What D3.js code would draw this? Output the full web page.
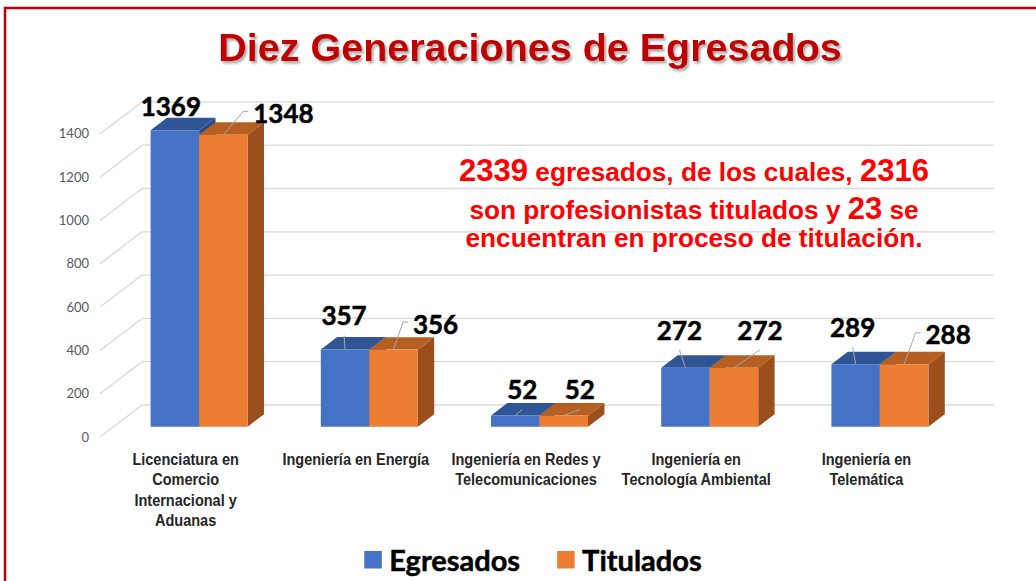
<!DOCTYPE html>
<html>
<head>
<meta charset="utf-8">
<script src="https://cdn.jsdelivr.net/npm/d3@7"></script>
<style>
  body { margin: 0; background: #fff; }
  svg { display: block; }
</style>
</head>
<body>
<div id="chart"></div>
<script>
// data
const categories = [
    'Licenciatura en Comercio Internacional y Aduanas',
    'Ingeniería en Energía',
    'Ingeniería en Redes y Telecomunicaciones',
    'Ingeniería en Tecnología Ambiental',
    'Ingeniería en Telemática'
];
const categoryLines = [
    ['Licenciatura en', 'Comercio', 'Internacional y', 'Aduanas'],
    ['Ingeniería en Energía'],
    ['Ingeniería en Redes y', 'Telecomunicaciones'],
    ['Ingeniería en', 'Tecnología Ambiental'],
    ['Ingeniería en', 'Telemática']
];
const series = ['Egresados', 'Titulados'];
const egresados = [1369, 357, 52, 272, 289];
const titulados = [1348, 356, 52, 272, 288];
const yTicks = [0, 200, 400, 600, 800, 1000, 1200, 1400];

// label placement relative to the top of each bar (dx, dy) and whether a hooked leader is used
const labelShift = {
    Egresados: [[-4, -14], [-1, -24], [7, -16], [-6, -28], [-3, -27]],
    Titulados: [[60, -12], [42, -16], [16, -16], [26, -28], [44, -20]]
};
const labelHook = {Egresados: [0, 0, 0, 0, 0], Titulados: [1, 1, 0, 0, 1]};

const colors = {
    Egresados: {front: '#4472C4', top: '#2F5597', side: '#2A4B86'},
    Titulados: {front: '#ED7D31', top: '#B65F22', side: '#9B4F1D'}
};

const W = 1036, H = 581;
const svg = d3.select('#chart').append('svg')
    .attr('width', W)
    .attr('height', H);

// slide border
svg.append('rect')
    .attr('x', 5).attr('y', 8)
    .attr('width', W + 20).attr('height', H + 20)
    .attr('fill', 'none')
    .attr('stroke', '#C00000')
    .attr('stroke-width', 2.5);

// title shadow
const defs = svg.append('defs');
defs.append('filter').attr('id', 'shadow')
    .attr('x', '-5%').attr('y', '-20%').attr('width', '110%').attr('height', '150%')
    .append('feDropShadow')
    .attr('dx', 2).attr('dy', 2.5).attr('stdDeviation', 1.2)
    .attr('flood-color', '#777').attr('flood-opacity', 0.6);

svg.append('text')
    .attr('x', 530).attr('y', 61)
    .attr('text-anchor', 'middle')
    .attr('font-family', '"Liberation Sans", Arial, sans-serif')
    .attr('font-weight', 'bold')
    .attr('font-size', 39.5)
    .attr('fill', '#C00000')
    .attr('filter', 'url(#shadow)')
    .text('Diez Generaciones de Egresados');

// 3D geometry: front floor edge, depth vector
const floorY = 437;
const depthX = 42, depthY = -32;
const d0 = 0.322, d1 = 0.712;  // bar front / back depth

const x = d3.scaleBand()
    .domain(categories)
    .range([100, 952])
    .paddingInner(0.43)
    .paddingOuter(0.218);

const xSub = d3.scaleBand()
    .domain(series)
    .range([0, x.bandwidth()]);

const y = d3.scaleLinear()
    .domain([0, 1400])
    .range([0, 303.1]);

function project(xf, v, d) {
    return [xf + depthX * d, floorY + depthY * d - y(v)];
}

const grid = svg.append('g')
    .attr('stroke', '#D9D9D9')
    .attr('stroke-width', 1.3)
    .attr('fill', 'none');

// back wall gridlines
grid.selectAll('.back')
    .data(yTicks)
    .enter()
    .append('line')
    .attr('x1', d => project(100, d, 1)[0])
    .attr('x2', d => project(952, d, 1)[0])
    .attr('y1', d => project(100, d, 1)[1])
    .attr('y2', d => project(100, d, 1)[1]);

// side wall gridlines
grid.selectAll('.side')
    .data(yTicks)
    .enter()
    .append('line')
    .attr('x1', d => project(100, d, 0)[0])
    .attr('y1', d => project(100, d, 0)[1])
    .attr('x2', d => project(100, d, 1)[0])
    .attr('y2', d => project(100, d, 1)[1]);

// y tick labels
svg.append('g')
    .selectAll('text')
    .data(yTicks)
    .enter()
    .append('text')
    .attr('x', 89)
    .attr('y', d => project(100, d, 0)[1])
    .attr('dy', '0.35em')
    .attr('text-anchor', 'end')
    .attr('font-family', 'Lato, "Open Sans", sans-serif')
    .attr('font-size', 13)
    .attr('fill', '#595959')
    .text(d => d);

// bars
const values = {Egresados: egresados, Titulados: titulados};
const bars = [];
series.forEach(s => {
    categories.forEach((c, i) => {
        bars.push({series: s, cat: c, i: i, value: values[s][i]});
    });
});

const pts = a => a.map(p => p.join(',')).join(' ');

const barG = svg.append('g');
bars.forEach(b => {
    const xl = x(b.cat) + xSub(b.series);
    const xr = xl + xSub.bandwidth();
    const col = colors[b.series];
    const g = barG.append('g');
    // side
    g.append('polygon')
        .attr('points', pts([project(xr, 0, d0), project(xr, b.value, d0), project(xr, b.value, d1), project(xr, 0, d1)]))
        .attr('fill', col.side);
    // top
    g.append('polygon')
        .attr('points', pts([project(xl, b.value, d0), project(xr, b.value, d0), project(xr, b.value, d1), project(xl, b.value, d1)]))
        .attr('fill', col.top);
    // front
    g.append('polygon')
        .attr('points', pts([project(xl, 0, d0), project(xr, 0, d0), project(xr, b.value, d0), project(xl, b.value, d0)]))
        .attr('fill', col.front);
});

// value labels + leader lines
const labelG = svg.append('g');
bars.forEach(b => {
    const xc = x(b.cat) + xSub(b.series) + xSub.bandwidth() / 2;
    const [tx, ty] = project(xc, b.value, d0);
    const [dx, dy] = labelShift[b.series][b.i];
    const lx = tx + dx, ly = ty + dy;
    const t = labelG.append('text')
        .attr('x', lx).attr('y', ly)
        .attr('text-anchor', 'middle')
        .attr('font-family', 'Lato, "Open Sans", sans-serif')
        .attr('font-weight', 'bold')
        .attr('font-size', 26)
        .attr('fill', '#000')
        .attr('stroke', '#000')
        .attr('stroke-width', 0.5)
        .text(b.value);
    const w = t.node().getComputedTextLength();
    let path;
    if (labelHook[b.series][b.i]) {
        const left = lx - w / 2;
        path = [[tx, ty], [left - 10, ly - 11.5], [left - 5, ly - 11.5]];
    } else {
        path = [[tx, ty], [lx, ly + 10]];
    }
    const len = Math.hypot(path[1][0] - tx, path[1][1] - ty);
    if (len > 8) {
        labelG.insert('polyline', 'text')
            .attr('points', pts(path))
            .attr('fill', 'none')
            .attr('stroke', '#A6A6A6')
            .attr('stroke-width', 1);
    }
});

// category labels (narrow bold face, squeezed horizontally)
const catG = svg.append('g')
    .attr('font-family', '"Liberation Sans", Arial, sans-serif')
    .attr('font-weight', 'bold')
    .attr('font-size', 16.5)
    .attr('fill', '#262626');
categories.forEach((c, i) => {
    const cx = x(c) + x.bandwidth() / 2;
    const t = catG.append('text')
        .attr('text-anchor', 'middle')
        .attr('transform', `translate(${cx},0) scale(0.88,1)`);
    categoryLines[i].forEach((line, j) => {
        t.append('tspan')
            .attr('x', 0)
            .attr('y', 465 + j * 20.5)
            .text(line);
    });
});

// annotation
const noteLines = [
    [['2339', true], [' egresados, de los cuales, ', false], ['2316', true]],
    [['son profesionistas titulados y ', false], ['23', true], [' se', false]],
    [['encuentran en proceso de titulación.', false]]
];
const noteBaselines = [181, 219, 247];
noteLines.forEach((parts, i) => {
    const t = svg.append('text')
        .attr('x', 694).attr('y', noteBaselines[i])
        .attr('text-anchor', 'middle')
        .attr('font-family', '"Liberation Sans", Arial, sans-serif')
        .attr('font-weight', 'bold')
        .attr('fill', '#FF0000');
    parts.forEach(p => {
        t.append('tspan')
            .attr('font-size', p[1] ? 31 : 26.2)
            .text(p[0]);
    });
});

// legend
const legend = svg.append('g');
let lx = 0;
series.forEach(s => {
    const g = legend.append('g').attr('transform', `translate(${lx},0)`);
    g.append('rect')
        .attr('x', 0).attr('y', 551)
        .attr('width', 17.5).attr('height', 17.5)
        .attr('fill', colors[s].front);
    const t = g.append('text')
        .attr('x', 25).attr('y', 571)
        .attr('font-family', 'Lato, "Open Sans", sans-serif')
        .attr('font-weight', 'bold')
        .attr('font-size', 29)
        .attr('fill', '#000')
        .attr('stroke', '#000')
        .attr('stroke-width', 0.5)
        .text(s);
    lx += 25 + t.node().getComputedTextLength() + 37;
});
const legendW = lx - 37;
legend.attr('transform', `translate(${533 - legendW / 2},0)`);
</script>
</body>
</html>
